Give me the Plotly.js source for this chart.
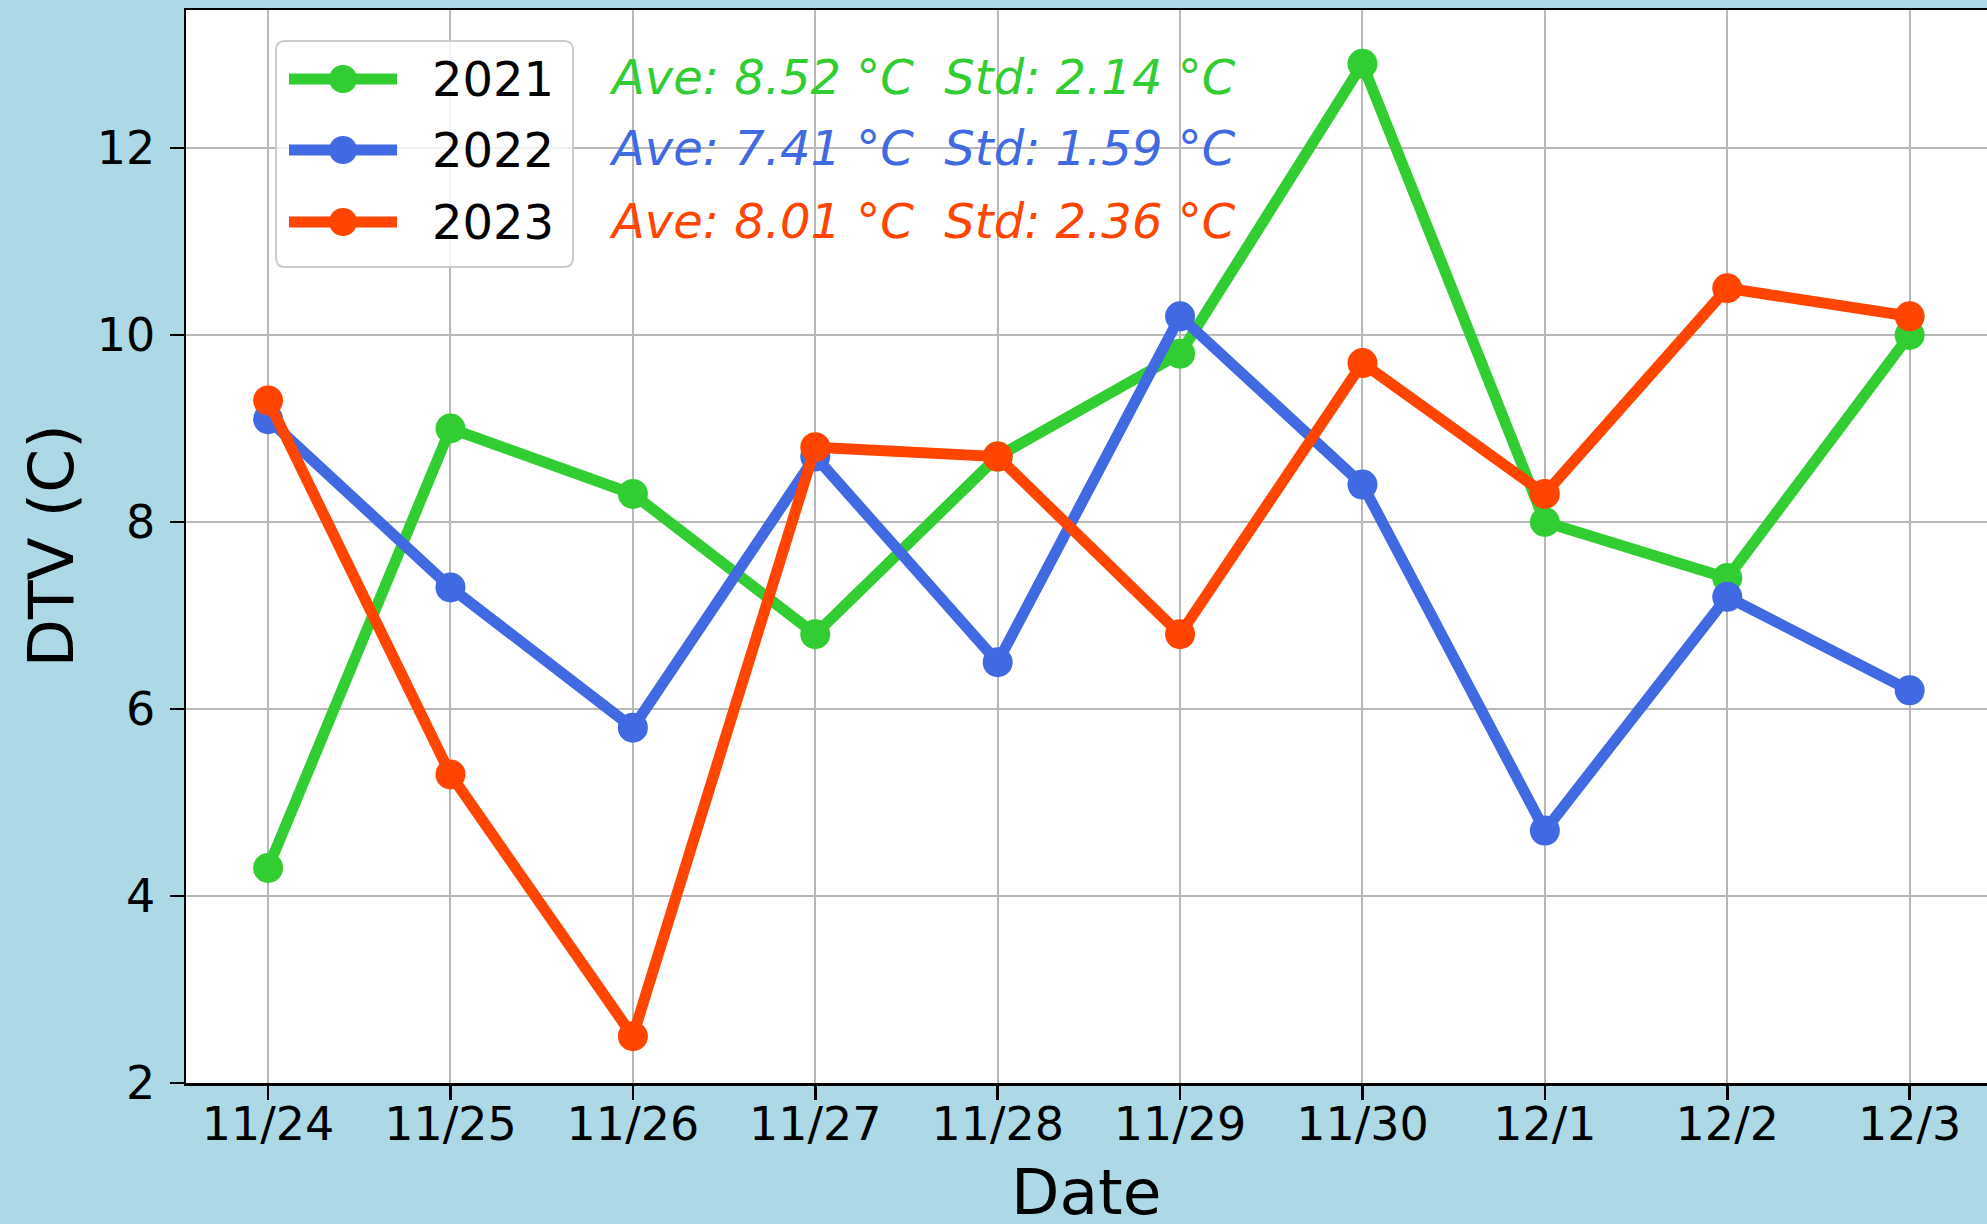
<!DOCTYPE html>
<html>
<head>
<meta charset="utf-8">
<script src="https://cdn.plot.ly/plotly-3.0.1.min.js"></script>
<style>html,body{margin:0;padding:0;background:#ADD8E6;}#chart{width:1987px;height:1224px;}</style>
</head>
<body>
<div id="chart"></div>
<script>
const dates = ['11/24','11/25','11/26','11/27','11/28','11/29','11/30','12/1','12/2','12/3'];
const years = ['2021','2022','2023'];
const dtv2021 = [4.3, 9.0, 8.3, 6.8, 8.7, 9.8, 12.9, 8.0, 7.4, 10.0];
const dtv2022 = [9.1, 7.3, 5.8, 8.7, 6.5, 10.2, 8.4, 4.7, 7.2, 6.2];
const dtv2023 = [9.3, 5.3, 2.5, 8.8, 8.7, 6.8, 9.7, 8.3, 10.5, 10.2];
const aveValues = ['8.52', '7.41', '8.01'];
const stdValues = ['2.14', '1.59', '2.36'];
const colors = ['#32CD32', '#4169E1', '#FF4500'];
const yTicks = [2, 4, 6, 8, 10, 12];
const xTitle = 'Date';
const yTitle = 'DTV (C)';

const series = [dtv2021, dtv2022, dtv2023];
const FONT = 'DejaVu Sans, Verdana, sans-serif';

// plot-area geometry (pixels) used to place the hand-drawn legend box and titles
const W = 1987, H = 1224, ML = 186, MR = 0, MT = 10, MB = 141;
const PW = W - ML - MR, PH = H - MT - MB;
const px = v => (v - ML) / PW;
const py = v => (H - MB - v) / PH;

const traces = series.map((vals, i) => ({
  x: dates,
  y: vals,
  type: 'scatter',
  mode: 'lines+markers',
  name: years[i],
  showlegend: false,
  line: {color: colors[i], width: 11},
  marker: {color: colors[i], size: 30},
  cliponaxis: false
}));

// statistics text
const statRows = [77, 148, 221];
const annotations = years.map((yr, i) => ({
  xref: 'paper', yref: 'paper',
  x: px(607), y: py(statRows[i]),
  xanchor: 'left', yanchor: 'middle',
  showarrow: false,
  text: 'Ave: ' + aveValues[i] + ' \u00b0C\u00a0\u00a0Std: ' + stdValues[i] + ' \u00b0C',
  font: {family: FONT, size: 48, color: colors[i], style: 'italic'}
}));

// axis titles
annotations.push({
  xref: 'paper', yref: 'paper', x: px(51), y: 0.5,
  xanchor: 'center', yanchor: 'middle', showarrow: false,
  textangle: -90, text: yTitle,
  font: {family: FONT, size: 63, color: '#000000'}
});
annotations.push({
  xref: 'paper', yref: 'paper', x: 0.5, y: py(1192),
  xanchor: 'center', yanchor: 'middle', showarrow: false,
  text: xTitle,
  font: {family: FONT, size: 63, color: '#000000'}
});

// legend (matplotlib-style box with line+marker handles)
const legRows = [79, 150, 222];
const box = {l: 276, r: 573, t: 41, b: 267, rad: 9};
const shapes = [];
const rr = box.rad;
const boxPath = 'M' + px(box.l + rr) + ',' + py(box.t) +
  ' L' + px(box.r - rr) + ',' + py(box.t) +
  ' Q' + px(box.r) + ',' + py(box.t) + ' ' + px(box.r) + ',' + py(box.t + rr) +
  ' L' + px(box.r) + ',' + py(box.b - rr) +
  ' Q' + px(box.r) + ',' + py(box.b) + ' ' + px(box.r - rr) + ',' + py(box.b) +
  ' L' + px(box.l + rr) + ',' + py(box.b) +
  ' Q' + px(box.l) + ',' + py(box.b) + ' ' + px(box.l) + ',' + py(box.b - rr) +
  ' L' + px(box.l) + ',' + py(box.t + rr) +
  ' Q' + px(box.l) + ',' + py(box.t) + ' ' + px(box.l + rr) + ',' + py(box.t) + ' Z';
shapes.push({type: 'path', xref: 'paper', yref: 'paper', path: boxPath,
  fillcolor: 'rgba(255,255,255,0.8)', line: {color: '#CCCCCC', width: 2}, layer: 'above'});
years.forEach((yr, i) => {
  const yy = legRows[i];
  shapes.push({type: 'line', xref: 'paper', yref: 'paper',
    x0: px(289), x1: px(397), y0: py(yy), y1: py(yy),
    line: {color: colors[i], width: 11}, layer: 'above'});
  shapes.push({type: 'circle', xref: 'paper', yref: 'paper',
    x0: px(343 - 14), x1: px(343 + 14), y0: py(yy + 14), y1: py(yy - 14),
    fillcolor: colors[i], line: {width: 0}, layer: 'above'});
  annotations.push({xref: 'paper', yref: 'paper', x: px(430), y: py(yy),
    xanchor: 'left', yanchor: 'middle', showarrow: false, text: yr,
    font: {family: FONT, size: 48, color: '#000000'}});
});

const layout = {
  width: W, height: H,
  paper_bgcolor: '#ADD8E6',
  plot_bgcolor: '#FFFFFF',
  margin: {l: ML, r: MR, t: MT, b: MB, pad: 0},
  font: {family: FONT, color: '#000000'},
  showlegend: false,
  xaxis: {
    type: 'category',
    range: [-0.45, 9.424],
    showgrid: true, gridcolor: '#B8B8B8', gridwidth: 2,
    showline: true, linecolor: '#000000', linewidth: 2.5, mirror: true,
    ticks: 'outside', ticklen: 14, tickwidth: 2.5, tickcolor: '#000000',
    tickfont: {family: FONT, size: 46, color: '#000000'},
    ticklabelstandoff: -15,
    zeroline: false
  },
  yaxis: {
    range: [2, 13.476],
    tickvals: yTicks,
    showgrid: true, gridcolor: '#B8B8B8', gridwidth: 2,
    showline: true, linecolor: '#000000', linewidth: 2.5, mirror: false,
    ticks: 'outside', ticklen: 14, tickwidth: 2.5, tickcolor: '#000000',
    tickfont: {family: FONT, size: 46, color: '#000000'},
    ticklabelstandoff: 5,
    zeroline: false
  },
  shapes: shapes,
  annotations: annotations
};

Plotly.newPlot('chart', traces, layout, {displayModeBar: false, staticPlot: true});
</script>
</body>
</html>
